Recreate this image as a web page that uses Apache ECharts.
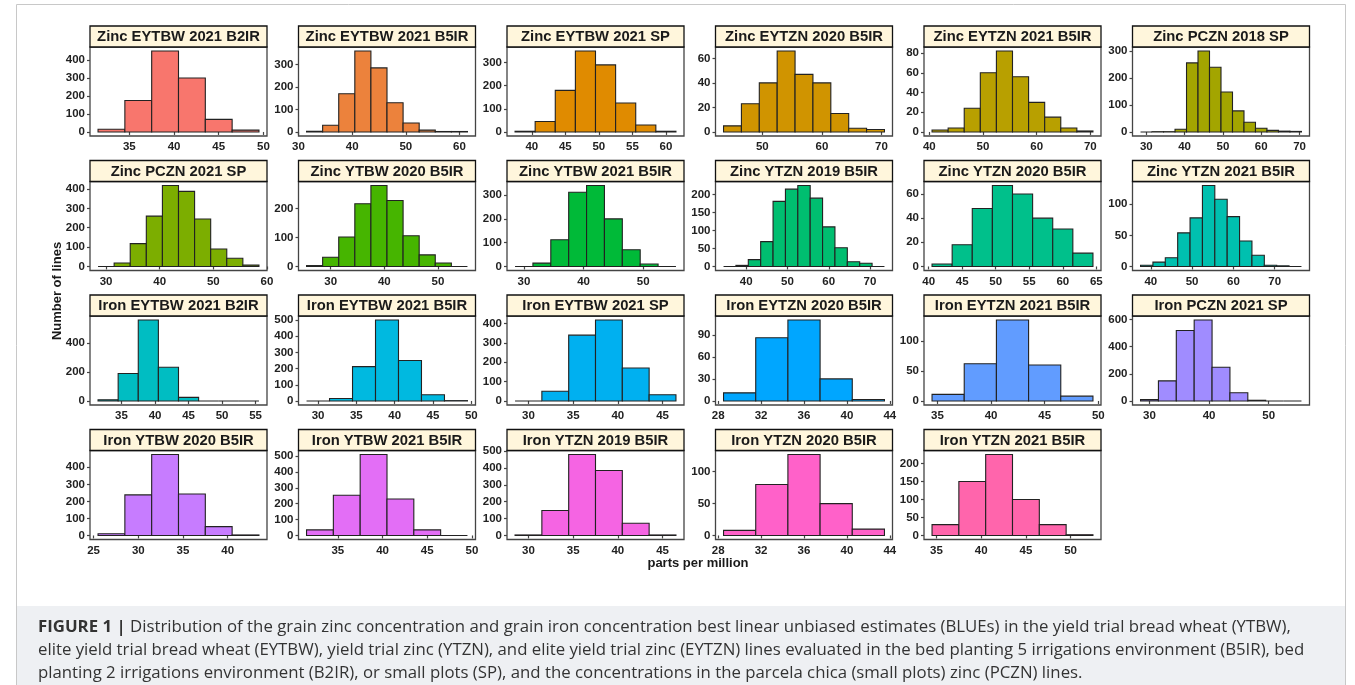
<!DOCTYPE html>
<html lang="en">
<head>
    <meta charset="UTF-8">
    <title>Figure 1</title>
    <script src="https://cdn.jsdelivr.net/npm/echarts@6/dist/echarts.min.js"></script>
    <style>
        html, body { margin: 0; padding: 0; background: #fff; }
        #main { width: 1355px; height: 685px; }
    </style>
</head>
<body>
<div id="main"></div>
<script>
    // histogram bins are 3 ppm wide
    var binWidth = 3;

    var titles = [
        'Zinc EYTBW 2021 B2IR', 'Zinc EYTBW 2021 B5IR', 'Zinc EYTBW 2021 SP', 'Zinc EYTZN 2020 B5IR', 'Zinc EYTZN 2021 B5IR', 'Zinc PCZN 2018 SP',
        'Zinc PCZN 2021 SP', 'Zinc YTBW 2020 B5IR', 'Zinc YTBW 2021 B5IR', 'Zinc YTZN 2019 B5IR', 'Zinc YTZN 2020 B5IR', 'Zinc YTZN 2021 B5IR',
        'Iron EYTBW 2021 B2IR', 'Iron EYTBW 2021 B5IR', 'Iron EYTBW 2021 SP', 'Iron EYTZN 2020 B5IR', 'Iron EYTZN 2021 B5IR', 'Iron PCZN 2021 SP',
        'Iron YTBW 2020 B5IR', 'Iron YTBW 2021 B5IR', 'Iron YTZN 2019 B5IR', 'Iron YTZN 2020 B5IR', 'Iron YTZN 2021 B5IR'
    ];

    var colors = [
        '#F8766D', '#EC823C', '#E08B00', '#D09400', '#B8A000', '#A3A500',
        '#7CAE00', '#46B500', '#00BA38', '#00BE70', '#00C08B', '#00C0AF',
        '#00BDC2', '#00B9E0', '#00B0F0', '#00A6FF', '#619CFF', '#A08CFF',
        '#C77CFF', '#E36EF6', '#F564E3', '#FF61C9', '#FF65AC'
    ];

    // left edge of the first bin
    var binStarts = [
        31.5, 31.5, 37.5, 43.5, 40.5, 28.5,
        28.5, 25.5, 28.5, 34.5, 40.5, 37.5,
        31.5, 28.5, 28.5, 28.5, 34.5, 28.5,
        25.5, 31.5, 28.5, 28.5, 34.5
    ];

    // number of lines per bin
    var counts = [
        [15, 175, 450, 300, 70, 10],
        [3, 30, 170, 360, 285, 130, 40, 8, 2, 2],
        [3, 45, 180, 350, 290, 125, 30, 3],
        [5, 23, 40, 66, 47, 40, 15, 3, 2],
        [2, 4, 24, 60, 82, 56, 30, 15, 4, 1],
        [0, 1, 1, 10, 256, 300, 240, 148, 78, 36, 14, 6, 3, 2],
        [0, 18, 118, 260, 418, 388, 245, 90, 42, 7],
        [3, 32, 102, 217, 280, 228, 106, 40, 12, 0],
        [0, 14, 112, 312, 340, 200, 70, 10, 0],
        [0, 3, 19, 69, 181, 215, 225, 190, 110, 52, 13, 9, 0],
        [2, 18, 48, 67, 60, 40, 31, 11],
        [2, 7, 14, 54, 78, 130, 108, 80, 41, 18, 2, 1, 0],
        [8, 190, 560, 233, 25, 0, 0, 0],
        [0, 15, 212, 500, 250, 38, 2],
        [0, 50, 340, 418, 170, 32],
        [11, 86, 110, 30, 2],
        [11, 62, 135, 60, 8],
        [10, 148, 518, 595, 248, 60, 5, 0, 0],
        [10, 238, 475, 243, 52, 3],
        [35, 253, 510, 230, 35, 0],
        [3, 148, 480, 385, 72, 3],
        [8, 80, 127, 50, 10],
        [30, 150, 225, 100, 30, 2]
    ];

    var xTicks = [
        [35, 40, 45, 50], [30, 40, 50, 60], [40, 45, 50, 55, 60], [50, 60, 70], [40, 50, 60, 70], [30, 40, 50, 60, 70],
        [30, 40, 50, 60], [30, 40, 50], [30, 40, 50], [40, 50, 60, 70], [40, 45, 50, 55, 60, 65], [40, 50, 60, 70],
        [35, 40, 45, 50, 55], [30, 35, 40, 45, 50], [30, 35, 40, 45], [28, 32, 36, 40, 44], [35, 40, 45, 50], [30, 40, 50],
        [25, 30, 35, 40], [35, 40, 45, 50], [30, 35, 40, 45], [28, 32, 36, 40, 44], [35, 40, 45, 50]
    ];

    var yTicks = [
        [0, 100, 200, 300, 400], [0, 100, 200, 300], [0, 100, 200, 300], [0, 20, 40, 60], [0, 20, 40, 60, 80], [0, 100, 200, 300],
        [0, 100, 200, 300, 400], [0, 100, 200], [0, 100, 200, 300], [0, 50, 100, 150, 200], [0, 20, 40, 60], [0, 50, 100],
        [0, 200, 400], [0, 100, 200, 300, 400, 500], [0, 100, 200, 300, 400], [0, 30, 60, 90], [0, 50, 100], [0, 200, 400, 600],
        [0, 100, 200, 300, 400], [0, 100, 200, 300, 400, 500], [0, 100, 200, 300, 400, 500], [0, 50, 100], [0, 50, 100, 150, 200]
    ];

    var colLeft = [90, 298.5, 507, 715.5, 924, 1132.5];
    var rowTop = [26, 160.5, 295, 429.5];
    var panelW = 177, stripH = 21, plotH = 89;
    var fontFam = '"Liberation Sans", Arial, sans-serif';

    var grids = [], xAxes = [], yAxes = [], series = [], graphics = [];

    // outer frame and caption box
    graphics.push({ type: 'rect', shape: { x: 16.5, y: 4.5, width: 1329, height: 700 }, style: { fill: 'none', stroke: '#c8c8c8', lineWidth: 1 }, z: 0 });
    graphics.push({ type: 'rect', shape: { x: 17, y: 606, width: 1328, height: 90 }, style: { fill: '#eef0f3' }, z: 0 });

    for (var i = 0; i < titles.length; i++) {
        var col = i % 6, row = Math.floor(i / 6);
        var c = counts[i];
        var x0 = binStarts[i], x1 = binStarts[i] + c.length * binWidth;
        var span = x1 - x0;
        var maxC = Math.max.apply(null, c);
        var data = c.map(function (v, k) {
            return [binStarts[i] + k * binWidth, binStarts[i] + (k + 1) * binWidth, v];
        });

        grids.push({
            left: colLeft[col], top: rowTop[row] + stripH, width: panelW, height: plotH,
            show: true, backgroundColor: '#fff', borderColor: '#444', borderWidth: 1.3
        });
        xAxes.push({
            gridIndex: i, type: 'value', min: x0 - 0.05 * span, max: x1 + 0.05 * span,
            axisLine: { show: false }, splitLine: { show: false },
            axisTick: { show: true, length: 3, customValues: xTicks[i], lineStyle: { color: '#444', width: 1.2 } },
            axisLabel: { customValues: xTicks[i], margin: 5, color: '#222', fontWeight: 'bold', fontSize: 11.5, fontFamily: fontFam }
        });
        yAxes.push({
            gridIndex: i, type: 'value', min: -0.05 * maxC, max: 1.05 * maxC,
            axisLine: { show: false }, splitLine: { show: false },
            axisTick: { show: true, length: 3, customValues: yTicks[i], lineStyle: { color: '#444', width: 1.2 } },
            axisLabel: { customValues: yTicks[i], margin: 5, color: '#222', fontWeight: 'bold', fontSize: 11.5, fontFamily: fontFam }
        });
        series.push({
            type: 'custom', xAxisIndex: i, yAxisIndex: i, data: data,
            encode: { x: [0, 1], y: 2 },
            renderItem: function (params, api) {
                var p0 = api.coord([api.value(0), api.value(2)]);
                var p1 = api.coord([api.value(1), 0]);
                return {
                    type: 'rect',
                    shape: { x: p0[0], y: p0[1], width: p1[0] - p0[0], height: p1[1] - p0[1] },
                    style: { fill: colors[params.seriesIndex], stroke: '#222', lineWidth: 1.1 }
                };
            }
        });

        // facet strip
        graphics.push({
            type: 'rect', z: 10,
            shape: { x: colLeft[col], y: rowTop[row], width: panelW, height: stripH },
            style: { fill: '#FFF6DC', stroke: '#111', lineWidth: 1.3 }
        });
        graphics.push({
            type: 'text', z: 11,
            x: colLeft[col] + panelW / 2, y: rowTop[row] + stripH / 2 + 0.5,
            style: { text: titles[i], fill: '#1a1a1a', font: 'bold 14.8px ' + fontFam, align: 'center', verticalAlign: 'middle' }
        });
    }

    // axis titles
    graphics.push({
        type: 'text', z: 11, x: 57, y: 291, rotation: Math.PI / 2,
        style: { text: 'Number of lines', fill: '#1a1a1a', font: 'bold 13px ' + fontFam, align: 'center', verticalAlign: 'middle' }
    });
    graphics.push({
        type: 'text', z: 11, x: 698, y: 563,
        style: { text: 'parts per million', fill: '#1a1a1a', font: 'bold 13px ' + fontFam, align: 'center', verticalAlign: 'middle' }
    });

    // caption
    var capFont = '16.8px "Open Sans", sans-serif';
    var capLines = [
        '{b|FIGURE 1 |} Distribution of the grain zinc concentration and grain iron concentration best linear unbiased estimates (BLUEs) in the yield trial bread wheat (YTBW),',
        'elite yield trial bread wheat (EYTBW), yield trial zinc (YTZN), and elite yield trial zinc (EYTZN) lines evaluated in the bed planting 5 irrigations environment (B5IR), bed',
        'planting 2 irrigations environment (B2IR), or small plots (SP), and the concentrations in the parcela chica (small plots) zinc (PCZN) lines.'
    ];
    var capY = [627, 650, 673];
    capLines.forEach(function (t, k) {
        graphics.push({
            type: 'text', z: 11, x: 38, y: capY[k],
            style: {
                text: t, fill: '#333', font: capFont, align: 'left', verticalAlign: 'middle',
                rich: { b: { font: 'bold 16.8px "Open Sans", sans-serif', fill: '#333' } }
            }
        });
    });

    var myChart = echarts.init(document.getElementById('main'));
    myChart.setOption({
        animation: false,
        grid: grids,
        xAxis: xAxes,
        yAxis: yAxes,
        series: series,
        graphic: graphics
    });
</script>
</body>
</html>
